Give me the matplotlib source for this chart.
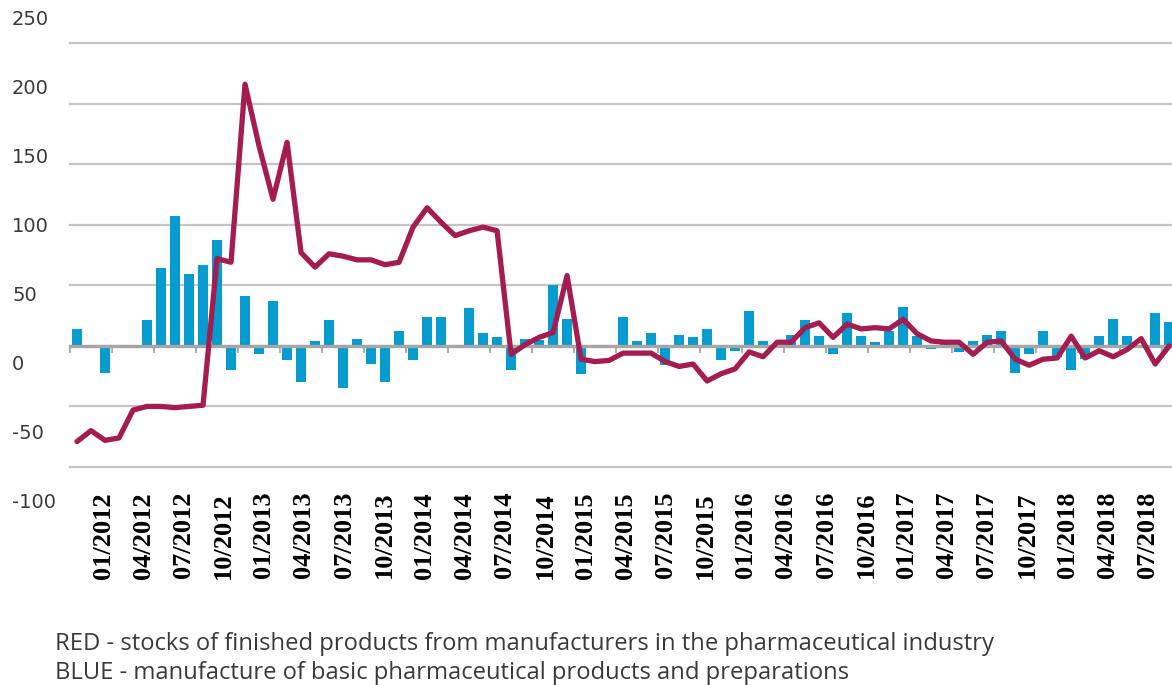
import numpy as np
import pandas as pd
import matplotlib
matplotlib.use("Agg")
import matplotlib.pyplot as plt

plt.rcParams["axes.unicode_minus"] = False

# monthly values, first point 11/2011
red = [-79, -70, -78, -76, -53, -50, -50, -51, -50, -49,
       72, 69, 216, 165, 121, 168, 77, 65, 76, 74,
       71, 71, 67, 69, 98, 114, 102, 91, 95, 98,
       95, -7, 1, 7, 11, 58, -11, -13, -12, -6,
       -6, -6, -13, -17, -15, -29, -23, -19, -5, -9,
       3, 3, 15, 19, 7, 18, 14, 15, 14, 22,
       10, 4, 3, 3, -7, 3, 4, -11, -16, -11,
       -10, 8, -10, -4, -9, -3, 6, -15, 0]
blue = [14, -1, -22, 0, 0, 21, 64, 107, 59, 67,
        87, -20, 41, -7, 37, -12, -30, 4, 21, -35,
        6, -15, -30, 12, -12, 24, 24, 0, 31, 11,
        7, -20, 6, 5, 50, 22, -23, 0, 0, 24,
        4, 11, -16, 9, 7, 14, -12, -4, 29, 4,
        0, 9, 21, 8, -7, 27, 8, 3, 12, 32,
        8, -3, 5, -5, 4, 9, 12, -22, -7, 12,
        -9, -20, -11, 8, 22, 8, 0, 27, 20]
date_labels = list(pd.date_range("2012-01-01", periods=27, freq="3MS").strftime("%m/%Y"))
y_ticks = [-100, -50, 0, 50, 100, 150, 200, 250]

note_red = "RED - stocks of finished products from manufacturers in the pharmaceutical industry"
note_blue = "BLUE - manufacture of basic pharmaceutical products and preparations"

RED = "#a51c50"
BLUE = "#069ccf"
GRID = "#c4c4c4"
TEXT = "#3a3a3a"

W, H = 1172, 685
fig = plt.figure(figsize=(W / 100, H / 100), dpi=100)
ax = fig.add_axes([70 / W, 1 - 467 / H, 1 - 70 / W, 424 / H])

x = np.arange(len(red))
ax.bar(x, blue, width=0.72, color=BLUE, zorder=1)
ax.plot(x, red, color=RED, lw=3.8, zorder=3, solid_joinstyle="round", solid_capstyle="round")

ax.set_xlim(-0.5, 78.2)
ax.set_ylim(-100, 250)
ax.set_yticks(y_ticks)
ax.tick_params(axis="y", length=0, labelleft=False)
ax.yaxis.grid(True, color=GRID, lw=1.6)
ax.set_axisbelow(True)
for g in ax.get_ygridlines():
    g.set_clip_on(False)
for s in ax.spines.values():
    s.set_visible(False)

# quarterly labels, spread like in the source picture
label_pos = np.linspace(1.86, 76.45, len(date_labels))
ax.set_xticks(label_pos, date_labels, rotation=90, fontsize=19,
              fontfamily="Liberation Serif", fontweight="bold")
ax.tick_params(axis="x", length=0, pad=18, labelcolor="black")

# zero line with small tick marks every 3 months
sec = ax.secondary_xaxis(0, transform=ax.transData)
sec.set_xticks(np.arange(-0.5, len(red), 3))
sec.tick_params(length=5, width=1.5, color="#b0b0b0", labelbottom=False)
sec.spines["bottom"].set_color("#a6a6a6")
sec.spines["bottom"].set_linewidth(2.4)
sec.set_zorder(2)

# y labels, left aligned
lab = fig.add_axes([0, 1 - 501 / H, 12 / W, (501 - 17.5) / H])
lab.set_ylim(-100, 250)
lab.set_yticks(y_ticks)
lab.yaxis.tick_right()
lab.tick_params(axis="y", length=0, pad=0, labelsize=14, labelcolor=TEXT)
lab.set_xticks([])
lab.patch.set_visible(False)
for s in lab.spines.values():
    s.set_visible(False)

fig.text(55 / W, 1 - 650 / H, note_red, fontsize=17.1, family="Open Sans",
         color=TEXT, va="baseline")
fig.text(55 / W, 1 - 679 / H, note_blue, fontsize=17.1, family="Open Sans",
         color=TEXT, va="baseline")

fig.savefig("out.png", dpi=100)
